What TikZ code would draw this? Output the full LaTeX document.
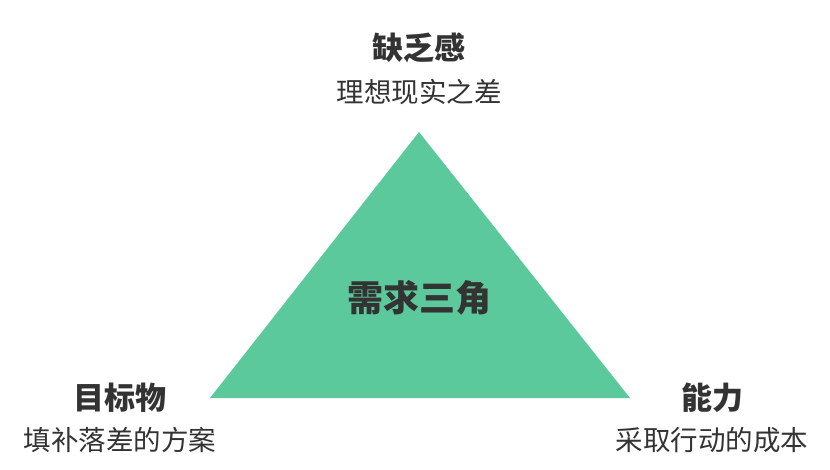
\documentclass[tikz,border=0pt]{standalone}
\usepackage{fontspec}
\setmainfont{Noto Sans CJK SC}
\definecolor{tri}{HTML}{5BC99B}
\definecolor{txt}{HTML}{333333}
\begin{document}
\begin{tikzpicture}[x=1pt,y=-1pt,
  ttl/.style={text=txt,font=\fontsize{31}{33}\selectfont\bfseries,inner sep=0pt,anchor=center},
  big/.style={text=txt,font=\fontsize{36}{38}\selectfont\bfseries,inner sep=0pt,anchor=center},
  sub/.style={text=txt,font=\fontsize{27.5}{30}\selectfont,inner sep=0pt,anchor=center}]
\useasboundingbox (0,0) rectangle (830,470);
\coordinate (A) at (419,132);
\coordinate (B) at (210,398);
\coordinate (C) at (630,398);
\fill[tri] (A) -- (B) -- (C) -- cycle;
\node[big] (center) at (419,298) {需求三角};
\node[ttl] (t1) at (419,48) {缺乏感};
\node[sub] (s1) at (419,92) {理想现实之差};
\node[ttl] (t2) at (120,398) {目标物};
\node[sub] (s2) at (120,440) {填补落差的方案};
\node[ttl] (t3) at (712,398) {能力};
\node[sub] (s3) at (712,440) {采取行动的成本};
\end{tikzpicture}
\end{document}
